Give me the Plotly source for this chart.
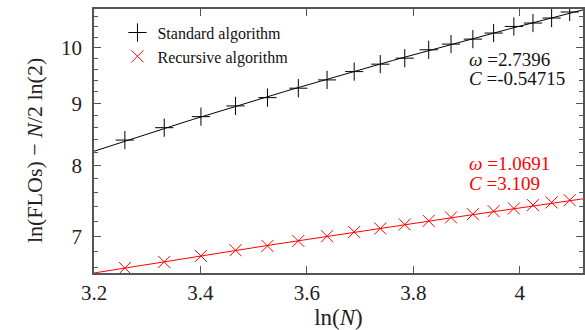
import numpy as np
import plotly.graph_objects as go

# ---- data ----
ln_N = [3.258, 3.332, 3.401, 3.466, 3.526, 3.584, 3.638, 3.689, 3.738,
        3.784, 3.829, 3.871, 3.912, 3.951, 3.989, 4.025, 4.060, 4.094]
standard_y = [8.395, 8.594, 8.775, 8.955, 9.096, 9.260, 9.406, 9.555, 9.690,
              9.801, 9.957, 10.065, 10.160, 10.277, 10.406, 10.473, 10.573, 10.694]
recursive_y = [6.592, 6.668, 6.744, 6.817, 6.873, 6.938, 7.000, 7.057, 7.103,
               7.157, 7.206, 7.253, 7.298, 7.340, 7.377, 7.424, 7.462, 7.494]

std_omega, std_C = 2.7396, -0.54715
rec_omega, rec_C = 1.0691, 3.109

x_range = [3.2, 4.119]
y_range = [6.53, 10.755]
y_major = [7, 8, 9, 10]
y_minor = [6.6, 6.8, 7.2, 7.4, 7.6, 7.8, 8.2, 8.4, 8.6, 8.8, 9.2, 9.4, 9.6,
           9.8, 10.2, 10.4, 10.6]
x_ticks = [3.2, 3.4, 3.6, 3.8, 4.0]
x_ticklabels = ["3.2", "3.4", "3.6", "3.8", "4"]

RED = "#ff0000"
FONT = "'Liberation Serif', 'Times New Roman', serif"
AXC = "#555555"

xf = np.linspace(x_range[0], x_range[1], 60)

fig = go.Figure()
fig.add_trace(go.Scatter(x=xf, y=std_omega * xf + std_C, mode="lines",
                         line=dict(color="black", width=1), showlegend=False,
                         hoverinfo="skip"))
fig.add_trace(go.Scatter(x=xf, y=rec_omega * xf + rec_C, mode="lines",
                         line=dict(color=RED, width=1), showlegend=False,
                         hoverinfo="skip"))
fig.add_trace(go.Scatter(x=ln_N, y=standard_y, mode="markers",
                         name="Standard algorithm",
                         marker=dict(symbol="cross-thin", size=13, color="black",
                                     line=dict(color="black", width=1))))
fig.add_trace(go.Scatter(x=ln_N, y=recursive_y, mode="markers",
                         name="Recursive algorithm",
                         marker=dict(symbol="x-thin", size=12, color=RED,
                                     line=dict(color=RED, width=1))))

def ann(text, y, color):
    fig.add_annotation(text=text, xref="paper", yref="paper", x=0.763, y=y,
                       xanchor="left", yanchor="middle", showarrow=False,
                       font=dict(family=FONT, size=19, color=color))

ann(f"<i>ω</i> ={std_omega}", 0.81, "#111111")
ann(f"<i>C</i> ={std_C}", 0.735, "#111111")
ann(f"<i>ω</i> ={rec_omega}", 0.416, RED)
ann(f"<i>C</i> ={rec_C}", 0.338, RED)

# y-axis title as rotated annotation
fig.add_annotation(text="ln(FLOs) − <i>N</i>/2 ln(2)", xref="paper", yref="paper",
                   x=-0.123, y=0.465, xanchor="center", yanchor="middle",
                   textangle=-90, showarrow=False,
                   font=dict(family=FONT, size=22, color="#222222"))

fig.update_layout(
    width=585, height=330,
    margin=dict(l=94, r=2, t=9, b=57),
    paper_bgcolor="white", plot_bgcolor="white",
    font=dict(family=FONT, size=21, color="#222222"),
    showlegend=True,
    legend=dict(x=0.048, y=0.975, xanchor="left", yanchor="top",
                bgcolor="rgba(0,0,0,0)", font=dict(family=FONT, size=16, color="#111111"),
                itemwidth=30, tracegroupgap=0),
    xaxis=dict(range=x_range, tickvals=x_ticks, ticktext=x_ticklabels,
               ticks="inside", ticklen=7, tickcolor=AXC, showline=True,
               linecolor=AXC, linewidth=1.5, mirror="ticks", showgrid=False,
               zeroline=False, tickfont=dict(size=21), automargin=False,
               title=dict(text="ln(<i>N</i>)", font=dict(size=23), standoff=1)),
    yaxis=dict(type="log", range=[np.log10(y_range[0]), np.log10(y_range[1])],
               tickvals=y_major, ticktext=[str(v) for v in y_major],
               ticks="inside", ticklen=7, tickcolor=AXC, showline=True,
               linecolor=AXC, linewidth=1.5, mirror="ticks", showgrid=False,
               zeroline=False, tickfont=dict(size=21), automargin=False,
               ticklabelstandoff=6,
               minor=dict(tickvals=y_minor, ticks="inside", ticklen=4,
                          tickcolor=AXC, showgrid=False)),
)

fig.write_html("out.html", config={"displayModeBar": False},
               post_script="document.body.style.margin='0';document.body.style.overflow='hidden';")
